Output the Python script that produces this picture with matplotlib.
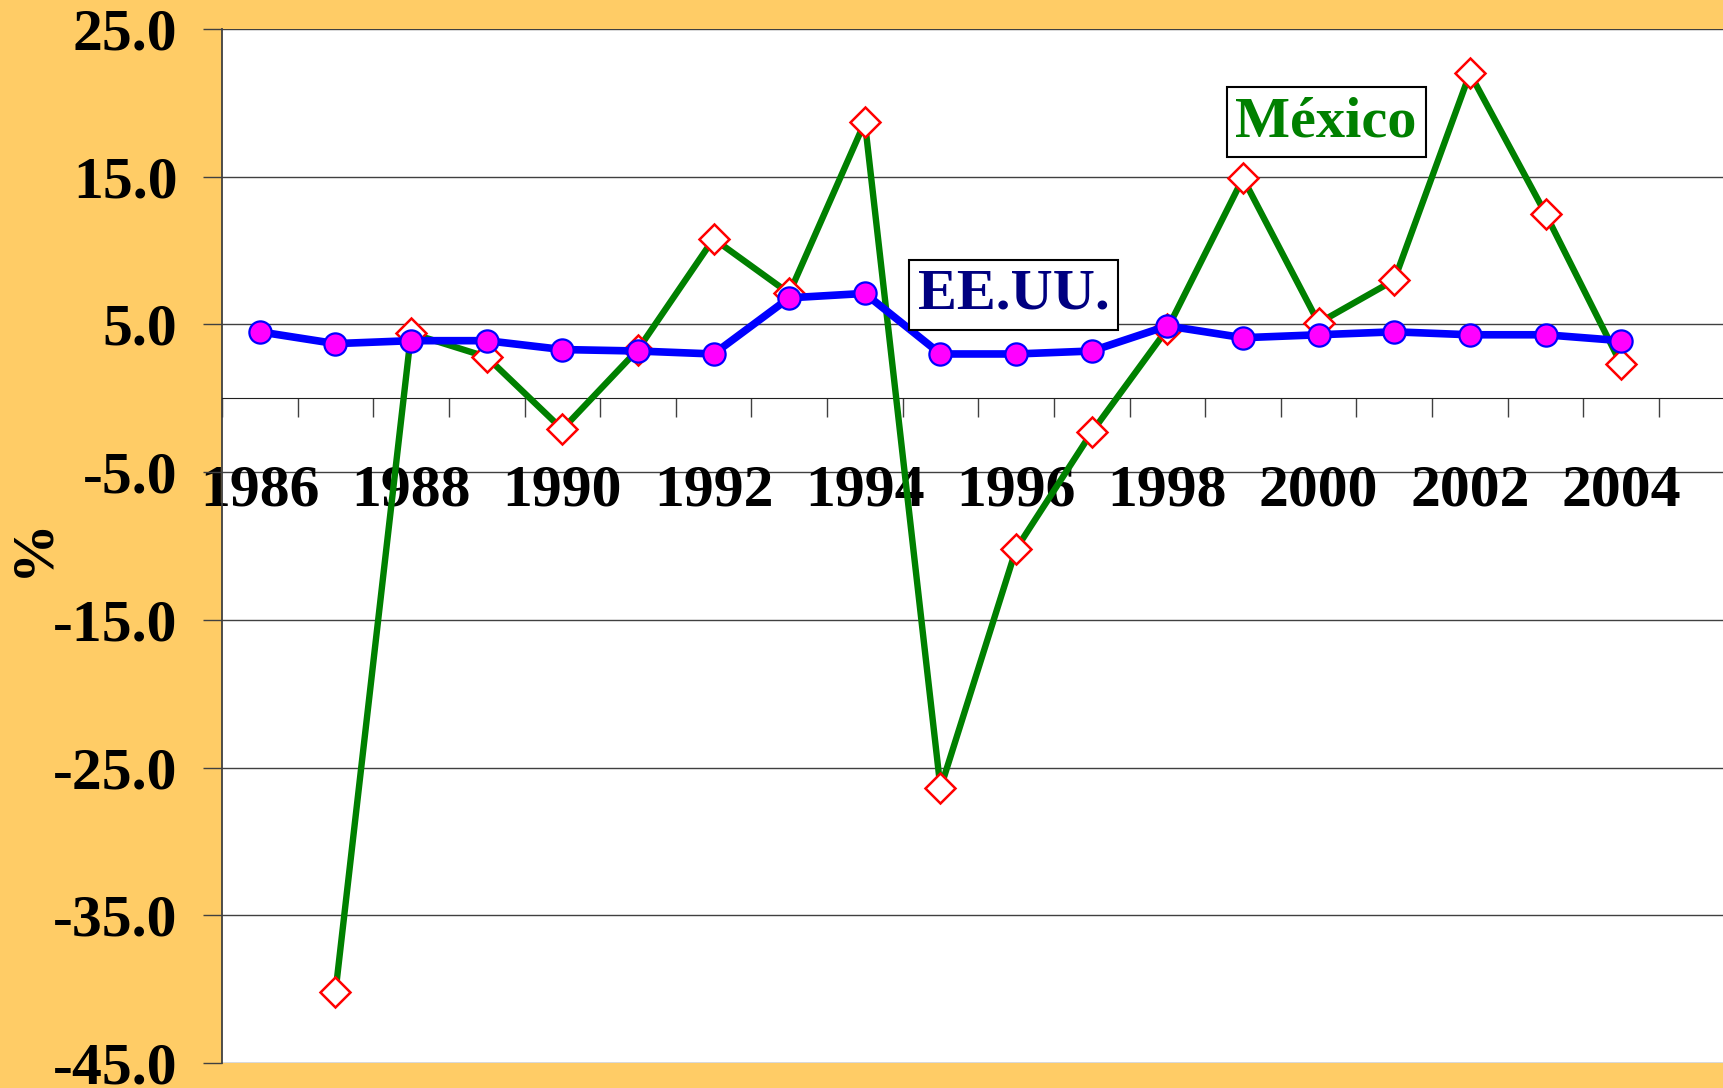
import matplotlib
matplotlib.use('Agg')
import matplotlib.pyplot as plt
import numpy as np

years = list(range(1986, 2005))
mexico = [np.nan, -40.2, 4.4, 2.8, -2.1, 3.3, 10.8, 7.1, 18.7, -26.4,
          -10.2, -2.3, 4.7, 14.9, 5.1, 8.0, 22.0, 12.5, 2.3]
eeuu = [4.5, 3.7, 3.9, 3.9, 3.3, 3.2, 3.0, 6.8, 7.1, 3.0,
        3.0, 3.2, 4.9, 4.1, 4.3, 4.5, 4.3, 4.3, 3.9]
y_ticks = [25.0, 15.0, 5.0, -5.0, -15.0, -25.0, -35.0, -45.0]

plt.rcParams['font.family'] = ['Liberation Serif', 'DejaVu Serif']
plt.rcParams['font.weight'] = 'bold'

fig = plt.figure(figsize=(17.23, 10.88), dpi=100)
fig.patch.set_facecolor('#FFCC66')
ax = fig.add_axes([222/1723, 25/1088, 1 - 222/1723, 1034/1088])
ax.set_facecolor('white')

x = np.arange(len(years))

# grid lines
for v in y_ticks:
    ax.axhline(v, color='#404040', lw=1.0, zorder=1)

# series
ax.plot(x, mexico, color='#008000', lw=4.6, marker='D', ms=15.5,
        mfc='white', mec='#FF0000', mew=1.8, zorder=3)
ax.plot(x, eeuu, color='#0000FF', lw=5.5, marker='o', ms=16,
        mfc='#FF00FF', mec='#0000FF', mew=1.6, zorder=4)

ax.set_ylim(-45, 25)
ax.set_xlim(-0.5, -0.5 + 1501/75.63)
ax.set_yticks(y_ticks)
ax.set_yticklabels(['%.1f' % v for v in y_ticks])
ax.tick_params(axis='y', length=14, width=1, color='#404040', pad=18, labelsize=43)

# x axis through zero
ax.spines['bottom'].set_position(('data', 0))
ax.spines['bottom'].set_color('#202020')
ax.spines['top'].set_visible(False)
ax.spines['right'].set_visible(False)
ax.spines['left'].set_color('#404040')
ax.spines['left'].set_linewidth(1.3)

ax.set_xticks(x[::2])
ax.set_xticklabels([str(y) for y in years[::2]])
ax.set_xticks(np.arange(-0.5, len(years) + 0.5, 1), minor=True)
ax.tick_params(axis='x', which='major', length=0, pad=48, labelsize=43)
ax.tick_params(axis='x', which='minor', length=14, width=1, color='#404040')
for lab in ax.get_xticklabels() + ax.get_yticklabels():
    lab.set_fontweight('bold')

fig.text(33/1723, 1 - 547/1088, '%', rotation=90, fontsize=43,
         fontweight='bold', ha='center', va='center')

box = dict(boxstyle='square,pad=0.15', facecolor='white', edgecolor='black', lw=1.5)
ax.text(9.97, 7.0, 'EE.UU.', color='#000080', fontsize=42, fontweight='bold',
        ha='center', va='center', bbox=box, zorder=5)
ax.text(14.1, 18.7, 'México', color='#008000', fontsize=42, fontweight='bold',
        ha='center', va='center', bbox=box, zorder=5)

fig.savefig('out.png', dpi=100, facecolor=fig.get_facecolor())
